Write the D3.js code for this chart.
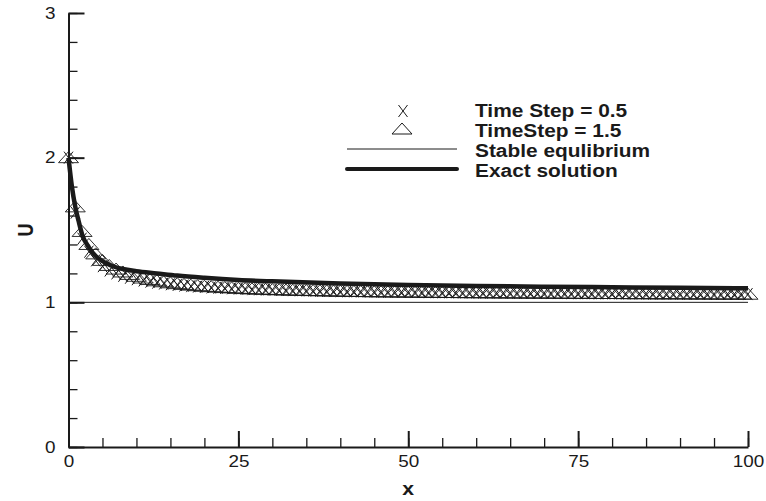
<!DOCTYPE html>
<html>
<head>
<meta charset="utf-8">
<script src="https://cdn.jsdelivr.net/npm/d3@7"></script>
<style>
  body { margin: 0; background: #fff; }
  svg { display: block; font-family: "Liberation Sans", Arial, sans-serif; }
</style>
</head>
<body>
<svg id="chart" width="766" height="501"></svg>
<script>
// U at x = 0, 1, 2, ... 100 (array index is x)
const step05 = [
  2.00, 1.62, 1.44, 1.35, 1.29, 1.25, 1.22, 1.20, 1.183, 1.17,
  1.16, 1.151, 1.143, 1.136, 1.130, 1.125, 1.120, 1.116, 1.112, 1.109,
  1.106, 1.103, 1.101, 1.099, 1.097, 1.095, 1.093, 1.091, 1.090, 1.088,
  1.087, 1.086, 1.085, 1.084, 1.083, 1.082, 1.081, 1.080, 1.079, 1.078,
  1.077, 1.076, 1.076, 1.075, 1.075, 1.074, 1.074, 1.073, 1.073, 1.072,
  1.072, 1.071, 1.071, 1.070, 1.070, 1.069, 1.069, 1.069, 1.068, 1.068,
  1.068, 1.067, 1.067, 1.067, 1.066, 1.066, 1.066, 1.065, 1.065, 1.065,
  1.065, 1.064, 1.064, 1.064, 1.063, 1.063, 1.063, 1.063, 1.062, 1.062,
  1.062, 1.062, 1.061, 1.061, 1.061, 1.061, 1.060, 1.060, 1.060, 1.060,
  1.060, 1.059, 1.059, 1.059, 1.059, 1.058, 1.058, 1.058, 1.058, 1.058,
  1.057
];
const step15 = [
  2.00, 1.66, 1.49, 1.40, 1.335, 1.29, 1.255, 1.23, 1.21, 1.193,
  1.18, 1.168, 1.158, 1.149, 1.142, 1.135, 1.129, 1.124, 1.119, 1.115,
  1.111, 1.108, 1.105, 1.102, 1.100, 1.097, 1.095, 1.093, 1.091, 1.090,
  1.088, 1.087, 1.085, 1.084, 1.083, 1.082, 1.081, 1.080, 1.079, 1.078,
  1.077, 1.076, 1.075, 1.075, 1.074, 1.073, 1.073, 1.072, 1.072, 1.071,
  1.071, 1.070, 1.070, 1.069, 1.069, 1.068, 1.068, 1.068, 1.067, 1.067,
  1.067, 1.066, 1.066, 1.066, 1.065, 1.065, 1.065, 1.064, 1.064, 1.064,
  1.064, 1.063, 1.063, 1.063, 1.062, 1.062, 1.062, 1.062, 1.061, 1.061,
  1.061, 1.061, 1.060, 1.060, 1.060, 1.060, 1.059, 1.059, 1.059, 1.059,
  1.059, 1.058, 1.058, 1.058, 1.058, 1.057, 1.057, 1.057, 1.057, 1.057,
  1.056
];
const exactX = [0, 0.5, 1, 1.5, 2, 3, 4, 5, 6, 8, 10, 13, 16, 20, 25, 30, 40, 50, 60, 70, 80, 90, 100];
const exactU = [2.0, 1.80, 1.66, 1.56, 1.47, 1.38, 1.32, 1.285, 1.26, 1.23, 1.215, 1.20, 1.185, 1.17, 1.155, 1.145, 1.13, 1.12, 1.113, 1.108, 1.104, 1.100, 1.097];
const equilibrium = 1;

const xTicks = [0, 25, 50, 75, 100];
const yTicks = [0, 1, 2, 3];
const legendLabels = ["Time Step = 0.5", "TimeStep = 1.5", "Stable equlibrium", "Exact solution"];

const svg = d3.select("#chart");
const ink = "#1a1a1a";
const stretch = 1.18; // glyphs in the picture are a bit wide

const x = d3.scaleLinear().domain([0, 100]).range([68.5, 748]);
const y = d3.scaleLinear().domain([0, 3]).range([447, 13]);

// axes, ticks point inwards
const xMinor = d3.axisBottom(x).tickValues(d3.range(0, 101, 5)).tickSize(-9).tickFormat("");
const yMinor = d3.axisLeft(y).tickValues(d3.range(0, 3.01, 0.2)).tickSize(-9).tickFormat("");
svg.append("g").attr("transform", `translate(0,${y(0)})`).call(xMinor)
  .call(g => g.select(".domain").remove());
svg.append("g").attr("transform", `translate(${x(0)},0)`).call(yMinor)
  .call(g => g.select(".domain").remove());

const xAxis = svg.append("g").attr("transform", `translate(0,${y(0)})`)
  .call(d3.axisBottom(x).tickValues(xTicks).tickFormat(d3.format("d"))
    .tickSize(-16).tickSizeOuter(0).tickPadding(9));
const yAxis = svg.append("g").attr("transform", `translate(${x(0)},0)`)
  .call(d3.axisLeft(y).tickValues(yTicks).tickFormat(d3.format("d"))
    .tickSize(-16).tickSizeOuter(0).tickPadding(11));

svg.selectAll(".tick line").attr("stroke", ink).attr("stroke-width", 1.3);
[xAxis, yAxis].forEach(g => {
  g.select(".domain").attr("stroke", ink).attr("stroke-width", 2);
  g.selectAll(".tick line").attr("stroke-width", 2);
  g.selectAll("text").attr("font-size", 16).attr("fill", ink)
    .attr("font-family", "'Liberation Sans', Arial, sans-serif")
    .attr("transform", `scale(${stretch},1)`);
});

svg.append("text").attr("transform", `translate(${x(50)},495) scale(${stretch},1)`)
  .attr("text-anchor", "middle").attr("font-size", 18).attr("font-weight", "bold")
  .attr("fill", ink).text("x");
svg.append("text").attr("transform", `translate(33,${y(1.5)}) scale(${stretch},1) rotate(-90)`)
  .attr("text-anchor", "middle").attr("font-size", 18).attr("font-weight", "bold")
  .attr("fill", ink).text("U");

// stable equilibrium
svg.append("line")
  .attr("x1", x(0)).attr("x2", x(100))
  .attr("y1", y(equilibrium)).attr("y2", y(equilibrium))
  .attr("stroke", ink).attr("stroke-width", 1);

// markers
const triPath = "M0,-6L10,5L-10,5Z";
const crossPath = "M-4.5,-6L4.5,6M4.5,-6L-4.5,6";

svg.append("g").selectAll("path").data(step15).join("path")
  .attr("transform", (d, i) => `translate(${x(i)},${y(d)})`)
  .attr("d", triPath).attr("fill", "none").attr("stroke", ink).attr("stroke-width", 0.9);

svg.append("g").selectAll("path").data(step05).join("path")
  .attr("transform", (d, i) => `translate(${x(i)},${y(d)})`)
  .attr("d", crossPath).attr("fill", "none").attr("stroke", ink).attr("stroke-width", 1);

// exact solution
svg.append("path")
  .datum(exactX.map((v, i) => [v, exactU[i]]))
  .attr("fill", "none").attr("stroke", ink).attr("stroke-width", 4.5)
  .attr("d", d3.line().x(d => x(d[0])).y(d => y(d[1])).curve(d3.curveMonotoneX));

// legend
const legend = svg.append("g");
const rowY = [111, 131, 151, 171];
legend.append("path").attr("transform", `translate(403,${rowY[0]})`)
  .attr("d", crossPath).attr("fill", "none").attr("stroke", ink).attr("stroke-width", 1);
legend.append("path").attr("transform", `translate(402,${rowY[1] - 2})`)
  .attr("d", triPath).attr("fill", "none").attr("stroke", ink).attr("stroke-width", 1);
legend.append("line").attr("x1", 347).attr("x2", 457).attr("y1", rowY[2] - 2).attr("y2", rowY[2] - 2)
  .attr("stroke", ink).attr("stroke-width", 1);
legend.append("line").attr("x1", 347).attr("x2", 457).attr("y1", rowY[3] - 2).attr("y2", rowY[3] - 2)
  .attr("stroke", ink).attr("stroke-width", 4).attr("stroke-linecap", "round");
legend.selectAll("text").data(legendLabels).join("text")
  .attr("transform", (d, i) => `translate(475,${rowY[i]}) scale(1.16,1)`)
  .attr("dy", "0.35em")
  .attr("font-size", 18).attr("font-weight", "bold").attr("fill", ink)
  .text(d => d);
</script>
</body>
</html>
